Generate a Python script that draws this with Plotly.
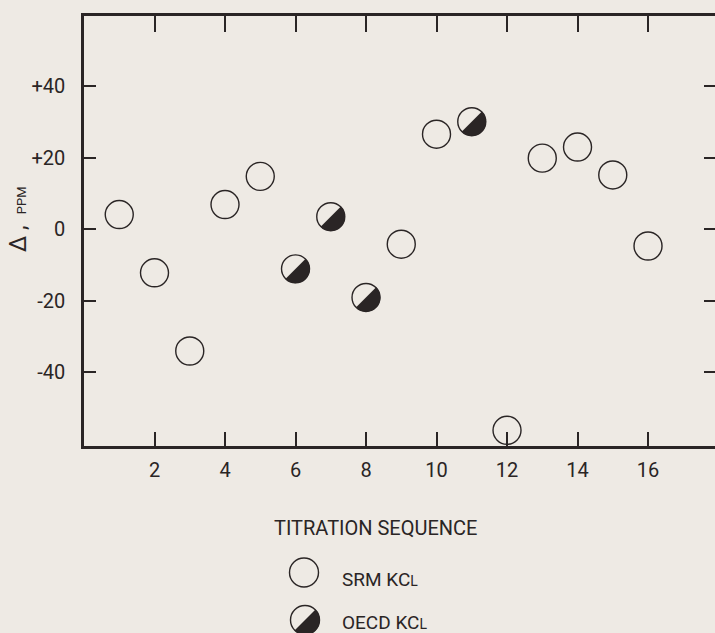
import numpy as np
import plotly.graph_objects as go

# ---- data ----
srm_seq = [1, 2, 3, 4, 5, 9, 10, 12, 13, 14, 15, 16]
srm_delta = [4.1, -12.2, -34.1, 6.9, 14.8, -4.2, 26.6, -56.3, 19.9, 23.0, 15.2, -4.7]
oecd_seq = [6, 7, 8, 11]
oecd_delta = [-11.1, 3.5, -19.1, 30.1]
x_tick_vals = [2, 4, 6, 8, 10, 12, 14, 16]
y_tick_vals = [-40, -20, 0, 20, 40]
y_tick_text = ["-40", "-20", "0", "+20", "+40"]

# ---- style ----
BG = "#EEEAE4"
INK = "#2a2525"
FONT = "Roboto, Liberation Sans, sans-serif"
W, H = 715, 633
ML, MR, MT, MB = 84, 0, 16, 187
PW, PH = W - ML - MR, H - MT - MB
MSIZE = 28
R = MSIZE / 2


def px_to_paper(px, py):
    return (px - ML) / PW, (H - MB - py) / PH


def half_disc(r, n=30):
    a = np.linspace(np.pi / 4, -3 * np.pi / 4, n)
    pts = " L ".join(f"{r*np.cos(t):.2f},{r*np.sin(t):.2f}" for t in a)
    return "M " + pts + " Z"


fig = go.Figure()
fig.add_trace(go.Scatter(
    x=srm_seq, y=srm_delta, mode="markers", name="SRM KCL",
    marker=dict(symbol="circle", size=MSIZE, color=BG,
                line=dict(color=INK, width=1.4)),
    showlegend=False))
fig.add_trace(go.Scatter(
    x=oecd_seq, y=oecd_delta, mode="markers", name="OECD KCL",
    marker=dict(symbol="circle", size=MSIZE, color=BG,
                line=dict(color=INK, width=1.4)),
    showlegend=False))

shapes = []
for xv, yv in zip(oecd_seq, oecd_delta):
    shapes.append(dict(type="path", xref="x", yref="y",
                       xsizemode="pixel", ysizemode="pixel",
                       xanchor=xv, yanchor=yv, path=half_disc(R + 0.3),
                       fillcolor=INK, line=dict(width=0), layer="above"))

# legend symbols
lx1, ly1 = px_to_paper(304, 572.5)
lx2, ly2 = px_to_paper(305, 620)
shapes.append(dict(type="circle", xref="paper", yref="paper",
                   xsizemode="pixel", ysizemode="pixel",
                   xanchor=lx1, yanchor=ly1, x0=-14.5, x1=14.5, y0=-14.5, y1=14.5,
                   fillcolor=BG, line=dict(color=INK, width=1.4)))
shapes.append(dict(type="circle", xref="paper", yref="paper",
                   xsizemode="pixel", ysizemode="pixel",
                   xanchor=lx2, yanchor=ly2, x0=-14.5, x1=14.5, y0=-14.5, y1=14.5,
                   fillcolor=BG, line=dict(color=INK, width=1.4)))
shapes.append(dict(type="path", xref="paper", yref="paper",
                   xsizemode="pixel", ysizemode="pixel",
                   xanchor=lx2, yanchor=ly2, path=half_disc(14.8),
                   fillcolor=INK, line=dict(width=0)))

annotations = []
tx, ty = px_to_paper(376, 527.5)
annotations.append(dict(text="TITRATION SEQUENCE", xref="paper", yref="paper",
                        x=tx, y=ty, xanchor="center", yanchor="middle",
                        showarrow=False, font=dict(family=FONT, size=20, color=INK)))
s1x, s1y = px_to_paper(340, 579.5)
annotations.append(dict(text="SRM KC<span style='font-size:14px'>L</span>",
                        xref="paper", yref="paper", x=s1x, y=s1y,
                        xanchor="left", yanchor="middle", showarrow=False,
                        font=dict(family=FONT, size=19, color=INK)))
s2x, s2y = px_to_paper(340, 622)
annotations.append(dict(text="OECD KC<span style='font-size:14px'>L</span>",
                        xref="paper", yref="paper", x=s2x, y=s2y,
                        xanchor="left", yanchor="middle", showarrow=False,
                        font=dict(family=FONT, size=19, color=INK)))
yx, yy = px_to_paper(18, 219)
annotations.append(dict(text="Δ ,  <span style='font-size:13px'>PPM</span>",
                        xref="paper", yref="paper", x=yx, y=yy, textangle=-90,
                        xanchor="center", yanchor="middle", showarrow=False,
                        font=dict(family=FONT, size=23, color=INK)))

XR = [0, 17.9]
YR = [-60.7, 59.7]
fig.update_layout(
    width=W, height=H,
    margin=dict(l=ML, r=MR, t=MT, b=MB, pad=0),
    paper_bgcolor=BG, plot_bgcolor=BG,
    font=dict(family=FONT, size=20, color=INK),
    shapes=shapes, annotations=annotations,
    xaxis=dict(range=XR, tickvals=x_tick_vals, ticks="inside", ticklen=14,
               tickwidth=1.5, tickcolor=INK, showline=True, linewidth=2.5,
               linecolor=INK, showgrid=False, zeroline=False,
               ticklabelstandoff=4, tickfont=dict(size=20)),
    yaxis=dict(range=YR, tickvals=y_tick_vals, ticktext=y_tick_text,
               ticks="inside", ticklen=12, tickwidth=1.5, tickcolor=INK,
               showline=True, linewidth=2.5, linecolor=INK, showgrid=False,
               zeroline=False, ticklabelstandoff=12, tickfont=dict(size=20)),
    xaxis2=dict(range=XR, overlaying="x", side="top", anchor="y",
                tickvals=x_tick_vals, ticks="inside", ticklen=16, tickwidth=1.5,
                tickcolor=INK, showline=True, linewidth=2.5, linecolor=INK,
                showticklabels=False, showgrid=False, zeroline=False),
    yaxis2=dict(range=YR, overlaying="y", side="right", anchor="x",
                tickvals=y_tick_vals, ticks="inside", ticklen=11, tickwidth=1.5,
                tickcolor=INK, showline=False, showticklabels=False,
                showgrid=False, zeroline=False),
)
fig.add_trace(go.Scatter(x=[None], y=[None], xaxis="x2", yaxis="y2",
                         showlegend=False, hoverinfo="skip"))

fig.write_html(
    "out.html",
    config={"displayModeBar": False},
    post_script=("document.body.style.margin='0';"
                 "document.body.style.padding='0';"
                 "document.body.style.overflow='hidden';"
                 "document.body.style.background='" + BG + "';"),
)
